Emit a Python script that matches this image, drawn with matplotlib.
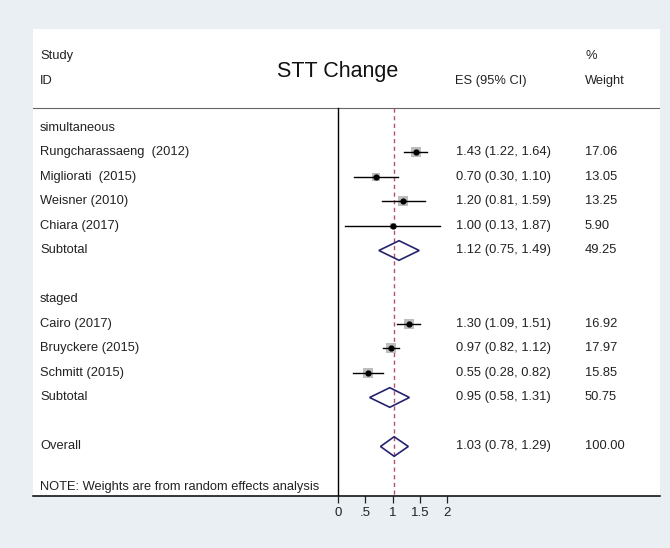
import matplotlib
matplotlib.use("Agg")
import matplotlib.pyplot as plt
from matplotlib.patches import Polygon
import numpy as np

plt.rcParams["font.family"] = ["Liberation Sans", "DejaVu Sans"]

# ---- data ----
groups = ["simultaneous", "staged"]
group_sizes = [4, 3]
studies = ["Rungcharassaeng  (2012)", "Migliorati  (2015)", "Weisner (2010)",
           "Chiara (2017)", "Cairo (2017)", "Bruyckere (2015)", "Schmitt (2015)"]
es = [1.43, 0.70, 1.20, 1.00, 1.30, 0.97, 0.55]
ci_lo = [1.22, 0.30, 0.81, 0.13, 1.09, 0.82, 0.28]
ci_hi = [1.64, 1.10, 1.59, 1.87, 1.51, 1.12, 0.82]
weights = [17.06, 13.05, 13.25, 5.90, 16.92, 17.97, 15.85]

sub_es = [1.12, 0.95]
sub_lo = [0.75, 0.58]
sub_hi = [1.49, 1.31]
sub_wt = [49.25, 50.75]

overall_es, overall_lo, overall_hi, overall_wt = 1.03, 0.78, 1.29, 100.00

xticks = [0, 0.5, 1, 1.5, 2]
xtick_labels = ["0", ".5", "1", "1.5", "2"]

# ---- figure ----
W, H = 670, 548
fig = plt.figure(figsize=(W / 100, H / 100), dpi=100, facecolor="#e9eff2")
ax = fig.add_axes([33 / W, (H - 496) / H, (660 - 33) / W, (496 - 29) / H])
ax.set_facecolor("white")

unit = 54.5      # pixels per effect-size unit
x0_px = 338      # pixel column of ES = 0
row_px = 24.5    # pixel height of one table row
row0_px = 128    # pixel row of the first table line


def px_x(p):
    return (p - x0_px) / unit


def px_y(p):
    return (p - row0_px) / row_px


ax.set_xlim(px_x(33), px_x(660))
ax.set_ylim(px_y(496), px_y(29))

for s in ["top", "left", "right"]:
    ax.spines[s].set_visible(False)
ax.spines["bottom"].set_linewidth(1.1)
ax.set_yticks([])
ax.set_xticks(xticks)
ax.set_xticklabels(xtick_labels)
ax.tick_params(axis="x", length=5, width=0.9, pad=3, labelsize=9.5, colors="#222222")

txt_col = "#222222"
fs = 9.3
x_study = px_x(40)
x_es = px_x(456)
x_wt = px_x(585)

# header
header_y = px_y(108)
ax.axhline(header_y, color="#666666", lw=0.8)
ax.text(x_study, px_y(56), "Study", fontsize=fs, color=txt_col, va="center")
ax.text(x_study, px_y(81), "ID", fontsize=fs, color=txt_col, va="center")
ax.text(0, px_y(72), "STT Change", fontsize=15.5, color="#111111",
        ha="center", va="center")
ax.text(px_x(455), px_y(81), "ES (95% CI)", fontsize=fs, color=txt_col, va="center")
ax.text(x_wt, px_y(56), "%", fontsize=fs, color=txt_col, va="center")
ax.text(x_wt, px_y(81), "Weight", fontsize=fs, color=txt_col, va="center")

bottom_row = px_y(496)
ax.plot([0, 0], [header_y, bottom_row], color="black", lw=1.0)
ax.plot([overall_es, overall_es], [header_y, bottom_row], color="#b5506a",
        lw=1.0, ls=(0, (3, 2.5)))

navy = "#25236e"


def diamond(center, lo, hi, row, h=0.4):
    poly = Polygon([(lo, row), (center, row - h), (hi, row), (center, row + h)],
                   closed=True, facecolor="none", edgecolor=navy, lw=1.2, zorder=4)
    ax.add_patch(poly)


def fmt(e, l, h):
    return f"{e:.2f} ({l:.2f}, {h:.2f})"


row = 0
k = 0
for g, n in enumerate(group_sizes):
    ax.text(x_study, row, groups[g], fontsize=fs, color=txt_col, va="center")
    row += 1
    for _ in range(n):
        ax.plot([ci_lo[k], ci_hi[k]], [row, row], color="black", lw=1.0, zorder=3)
        ax.scatter([es[k]], [row], marker="s", s=3.2 * weights[k],
                   color="#bdbdbd", linewidths=0, zorder=2)
        ax.scatter([es[k]], [row], marker="o", s=12, color="black", zorder=4)
        ax.text(x_study, row, studies[k], fontsize=fs, color=txt_col, va="center")
        ax.text(x_es, row, fmt(es[k], ci_lo[k], ci_hi[k]), fontsize=fs,
                color=txt_col, va="center")
        ax.text(x_wt, row, f"{weights[k]:.2f}", fontsize=fs, color=txt_col, va="center")
        row += 1
        k += 1
    diamond(sub_es[g], sub_lo[g], sub_hi[g], row)
    ax.text(x_study, row, "Subtotal", fontsize=fs, color=txt_col, va="center")
    ax.text(x_es, row, fmt(sub_es[g], sub_lo[g], sub_hi[g]), fontsize=fs,
            color=txt_col, va="center")
    ax.text(x_wt, row, f"{sub_wt[g]:.2f}", fontsize=fs, color=txt_col, va="center")
    row += 2

diamond(overall_es, overall_lo, overall_hi, row)
ax.text(x_study, row, "Overall", fontsize=fs, color=txt_col, va="center")
ax.text(x_es, row, fmt(overall_es, overall_lo, overall_hi), fontsize=fs,
        color=txt_col, va="center")
ax.text(x_wt, row, f"{overall_wt:.2f}", fontsize=fs, color=txt_col, va="center")

ax.text(x_study, px_y(487), "NOTE: Weights are from random effects analysis",
        fontsize=fs, color=txt_col, va="center")

fig.savefig("out.png", dpi=100, facecolor=fig.get_facecolor())
